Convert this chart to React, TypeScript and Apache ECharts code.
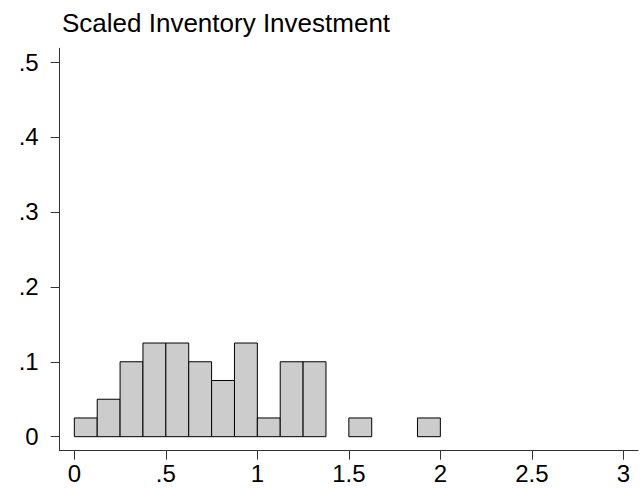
import React, { useEffect, useRef } from "react";
import * as echarts from "echarts";

const title = "Scaled Inventory Investment";
const binStarts = [0, 0.125, 0.25, 0.375, 0.5, 0.625, 0.75, 0.875, 1.0, 1.125, 1.25, 1.5, 1.875];
const binWidth = 0.125;
const densities = [0.025, 0.05, 0.1, 0.125, 0.125, 0.1, 0.075, 0.125, 0.025, 0.1, 0.1, 0.025, 0.025];
const xTicks = [0, 0.5, 1, 1.5, 2, 2.5, 3];
const yTicks = [0, 0.1, 0.2, 0.3, 0.4, 0.5];

const fmt = (v: number) => {
  const s = String(Math.round(v * 1000) / 1000);
  return s.startsWith("0.") ? s.slice(1) : s;
};

export default function App() {
  const ref = useRef<HTMLDivElement>(null);
  useEffect(() => {
    if (!ref.current) return;
    const chart = echarts.init(ref.current, null, { renderer: "svg" });
    const data = binStarts.map((s, i) => [s, s + binWidth, densities[i]]);
    const font = "Liberation Sans, Arial, sans-serif";
    chart.setOption({
      animation: false,
      backgroundColor: "#ffffff",
      title: {
        text: title,
        left: 57,
        top: 5,
        textStyle: { fontFamily: font, fontSize: 26, fontWeight: "normal", color: "#000" },
      },
      grid: { left: 59.7, right: 3, top: 48.3, bottom: 37.3, containLabel: false },
      xAxis: {
        type: "value",
        min: -0.08,
        max: 3.08,
        splitLine: { show: false },
        axisLine: { show: true, onZero: false, lineStyle: { color: "#333", width: 1 } },
        axisTick: { show: true, length: 9, customValues: xTicks, lineStyle: { color: "#333" } },
        axisLabel: {
          customValues: xTicks,
          formatter: (v: number) => fmt(v),
          fontFamily: font,
          fontSize: 24,
          color: "#000",
          margin: 11,
          showMinLabel: true,
          showMaxLabel: true,
        },
      },
      yAxis: {
        type: "value",
        min: -0.0187,
        max: 0.5183,
        splitLine: { show: false },
        axisLine: { show: true, onZero: false, lineStyle: { color: "#333", width: 1 } },
        axisTick: { show: true, length: 9, customValues: yTicks, lineStyle: { color: "#333" } },
        axisLabel: {
          customValues: yTicks,
          formatter: (v: number) => fmt(v),
          fontFamily: font,
          fontSize: 24,
          color: "#000",
          margin: 21,
        },
      },
      series: [
        {
          type: "custom",
          data,
          renderItem: (params: any, api: any) => {
            const x0 = api.value(0);
            const x1 = api.value(1);
            const h = api.value(2);
            const p0 = api.coord([x0, 0]);
            const p1 = api.coord([x1, h]);
            return {
              type: "rect",
              shape: { x: p0[0], y: p1[1], width: p1[0] - p0[0], height: p0[1] - p1[1] },
              style: { fill: "#cccccc", stroke: "#000", lineWidth: 1 },
            };
          },
        },
      ],
    });
    return () => chart.dispose();
  }, []);
  return <div ref={ref} style={{ width: 641, height: 488, position: "absolute", left: 0, top: 0 }} />;
}
